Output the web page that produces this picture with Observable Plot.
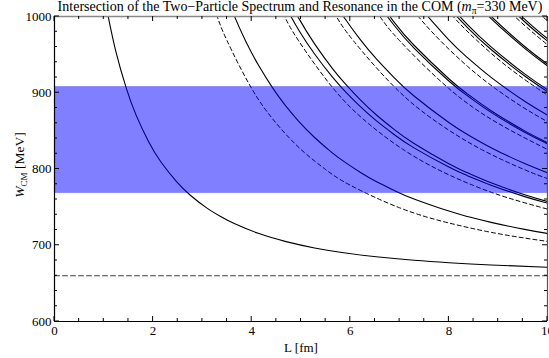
<!DOCTYPE html>
<html><head><meta charset="utf-8">
<script src="https://cdn.jsdelivr.net/npm/d3@7"></script>
<script src="https://cdn.jsdelivr.net/npm/@observablehq/plot@0.6"></script>
<style>body{margin:0;background:#fff;} svg{display:block}</style>
</head><body><div id="chart"></div>
<script>
// ---- text ----
const titleMain = "Intersection of the Two\u2212Particle Spectrum and Resonance in the COM (";
const titleMass = "=330 MeV)";
const xLabel = "L [fm]";
const xTicks = [0, 2, 4, 6, 8, 10];
const yTicks = [600, 700, 800, 900, 1000];

// ---- resonance band and threshold (MeV) ----
const bandLow = 768;
const bandHigh = 908;
const threshold = [[0, 660], [10, 660]];

// ---- dashed levels: [L (fm), W_CM (MeV)] ----
const dash1 = [[3.1,1037.0],[3.30,1000.1],[3.5,968.3],[4,905.5],[4.5,859.8],[5,825.6],[5.5,799.3],[6,778.7],[7,749.1],[8,729.2],[9,715.2],[10,705.0]];
const dash2 = [[4.384,1037.0],[4.667,1000.1],[4.950,968.3],[5.657,905.5],[6.364,859.8],[7.071,825.6],[7.778,799.3],[8.485,778.7],[9.192,762.3],[10,747.4]];
const dash3 = [[5.370,1037.0],[5.716,1000.1],[6.062,968.3],[6.928,905.5],[7.794,859.8],[8.660,825.6],[9.526,799.3],[10,787.4]];
const dash4 = [[6.2,1037.0],[6.6,1000.1],[7.0,968.3],[8.0,905.5],[9.0,859.8],[10,825.6]];
const dash5 = [[6.932,1037.0],[7.379,1000.1],[7.826,968.3],[8.385,934.2],[8.944,905.5],[9.503,880.9],[10,862.0]];
const dash6 = [[7.593,1037.0],[8.083,1000.1],[8.573,968.3],[9.186,934.2],[9.798,905.5],[10,897.0]];
const dash8 = [[8.768,1037.0],[9.334,1000.1],[9.899,968.3],[10,963.0]];
const dash9 = [[9.3,1037.0],[9.9,1000.1],[10,994.5]];

// ---- solid levels: [L (fm), W_CM (MeV)] ----
const solid01 = [[1.078,1003.7],[1.240,955.4],[1.459,905.3],[1.653,871.0],[1.907,836.0],[2.156,809.5],[2.480,783.1],[2.755,765.6],[3.100,748.4],[3.397,736.6],[3.646,728.4],[4.133,715.6],[4.678,705.1],[5.276,696.5],[5.904,689.9],[6.525,684.9],[7.293,680.3],[7.999,677.1],[8.856,674.1],[10,671.2]];
const solid12 = [[3.444,1034.2],[3.646,1000.8],[3.874,968.2],[4.133,936.6],[4.428,906.0],[4.678,883.7],[4.959,862.1],[5.276,841.3],[5.635,821.2],[5.904,808.3],[6.199,795.8],[6.525,783.6],[6.888,772.0],[7.293,760.7],[7.999,744.8],[8.377,737.7],[8.856,730.0],[9.537,720.8],[10,715.5]];
const solid14 = [[4.678,1013.5],[4.959,981.7],[5.276,950.8],[5.635,920.7],[5.904,901.1],[6.199,882.0],[6.525,863.4],[6.888,845.3],[7.293,827.7],[7.999,802.5],[8.377,791.2],[8.856,778.8],[9.537,763.8],[10,755.2]];
const solid23 = [[4.678,1031.2],[4.959,997.2],[5.276,964.1],[5.635,932.0],[5.904,911.2],[6.199,890.9],[6.525,871.1],[6.888,851.9],[7.293,833.4],[7.999,806.8],[8.377,795.0],[8.856,781.9],[9.537,766.3],[10,757.3]];
const solid25 = [[5.635,1022.5],[5.904,996.0],[6.199,970.0],[6.525,944.6],[6.888,919.8],[7.293,895.7],[7.999,860.9],[8.377,845.3],[8.856,828.0],[9.537,807.1],[10,795.1]];
const solid36 = [[6.525,1019.0],[6.888,988.5],[7.293,958.6],[7.999,915.4],[8.377,896.0],[8.856,874.3],[9.537,848.2],[10,833.0]];
const solid45 = [[6.525,1023.8],[6.888,992.7],[7.293,962.3],[7.999,918.4],[8.377,898.5],[8.856,876.5],[9.537,850.0],[10,834.6]];
const solid56 = [[7.293,1020.7],[7.999,969.3],[8.377,946.1],[8.856,920.2],[9.537,888.9],[10,870.7]];
const solid49 = [[7.999,1011.2],[8.377,985.5],[8.856,956.7],[9.537,921.9],[10,901.5]];
const solid58 = [[7.999,1015.5],[8.377,989.4],[8.856,960.2],[9.537,924.7],[10,904.1]];
const solid510 = [[8.377,1029.4],[8.856,997.3],[9.537,958.2],[10,935.3]];
const solid69 = [[8.377,1032.9],[8.856,1000.3],[9.537,960.7],[10,937.5]];
const solid611 = [[8.856,1036.1],[9.537,993.1],[10,967.8]];
const solid89 = [[8.856,1040.2],[9.537,996.5],[10,970.9]];

const dashedCurves = [dash1, dash2, dash3, dash4, dash5, dash6, dash8, dash9];
const solidCurves = [solid01, solid12, solid14, solid23, solid25, solid36, solid45, solid56, solid49, solid58, solid510, solid69, solid611, solid89];

const toRows = (curves) => curves.flatMap((c, i) => c.map(([L, W]) => ({L, W, id: i})));
const solidRows = toRows(solidCurves);
const dashedRows = toRows(dashedCurves);
const thresholdRows = threshold.map(([L, W]) => ({L, W}));

const svg = Plot.plot({
  width: 549, height: 358,
  marginLeft: 54, marginRight: 2, marginTop: 16, marginBottom: 37,
  x: {domain: [0, 10]},
  y: {domain: [600, 1000]},
  style: {fontFamily: "'Liberation Serif', 'DejaVu Serif', serif", fontSize: "13px", color: "black", background: "white"},
  marks: [
    Plot.line(thresholdRows, {x: "L", y: "W", stroke: "#444", strokeWidth: 1.2, strokeDasharray: "5,3"}),
    Plot.line(dashedRows, {x: "L", y: "W", z: "id", curve: "natural", clip: true, stroke: "black", strokeWidth: 1, strokeDasharray: "4,3"}),
    Plot.line(solidRows, {x: "L", y: "W", z: "id", curve: "natural", clip: true, stroke: "black", strokeWidth: 1.1}),
    Plot.rect([{lo: bandLow, hi: bandHigh}], {x1: 0, x2: 10, y1: "lo", y2: "hi", fill: "blue", fillOpacity: 0.5}),
    Plot.ruleY([1000], {stroke: "#888", strokeWidth: 1.6}),
    Plot.ruleX([10], {stroke: "#555", strokeWidth: 1.2}),
    Plot.ruleY([600], {stroke: "black", strokeWidth: 1.2}),
    Plot.ruleX([0], {stroke: "black", strokeWidth: 1.2}),
    Plot.axisX({ticks: xTicks, tickSize: 0, tickPadding: 4, label: null, tickFormat: d => String(d), fontSize: 13}),
    Plot.axisY({ticks: yTicks, tickSize: 0, tickPadding: 3, label: null, tickFormat: d => String(d), fontSize: 13})
  ]
});

// inward frame ticks through the plot's scales
const sx = svg.scale("x"), sy = svg.scale("y");
const g = d3.select(svg).append("g").attr("stroke", "black").attr("stroke-width", 1);
const xMinor = d3.range(0, 10.001, 0.5), yMinor = d3.range(600, 1000.001, 20);
const X0 = sx.apply(0), X1 = sx.apply(10), Y0 = sy.apply(600), Y1 = sy.apply(1000);
xMinor.forEach(v => {
  const len = xTicks.includes(v) ? 5 : 3, px = sx.apply(v);
  g.append("line").attr("x1", px).attr("x2", px).attr("y1", Y0).attr("y2", Y0 - len);
  g.append("line").attr("x1", px).attr("x2", px).attr("y1", Y1).attr("y2", Y1 + len);
});
yMinor.forEach(v => {
  const len = yTicks.includes(v) ? 5 : 3, py = sy.apply(v);
  g.append("line").attr("y1", py).attr("y2", py).attr("x1", X0).attr("x2", X0 + len);
  g.append("line").attr("y1", py).attr("y2", py).attr("x1", X1).attr("x2", X1 - len);
});

// title with italic m and subscript pi
const font = "'Liberation Serif', 'DejaVu Serif', serif";
const t = d3.select(svg).append("text").attr("x", 300).attr("y", 11).attr("text-anchor", "middle")
  .attr("font-family", font).attr("font-size", 14).attr("fill", "black");
t.append("tspan").text(titleMain);
t.append("tspan").attr("font-style", "italic").text("m");
t.append("tspan").attr("font-size", 9.5).attr("dy", 3).text("\u03c0");
t.append("tspan").attr("dy", -3).text(titleMass);

// y label W_CM [MeV]
const yl = d3.select(svg).append("text").attr("transform", "translate(24,165) rotate(-90)").attr("text-anchor", "middle")
  .attr("font-family", font).attr("font-size", 13.5).attr("fill", "black");
yl.append("tspan").attr("font-style", "italic").text("W");
yl.append("tspan").attr("font-size", 9).attr("dy", 3).text("CM");
yl.append("tspan").attr("dy", -3).text(" [MeV]");

// x label
d3.select(svg).append("text").attr("x", 301).attr("y", 352).attr("text-anchor", "middle")
  .attr("font-family", font).attr("font-size", 13).attr("fill", "black").text(xLabel);

document.getElementById("chart").appendChild(svg);
</script>
</body></html>
